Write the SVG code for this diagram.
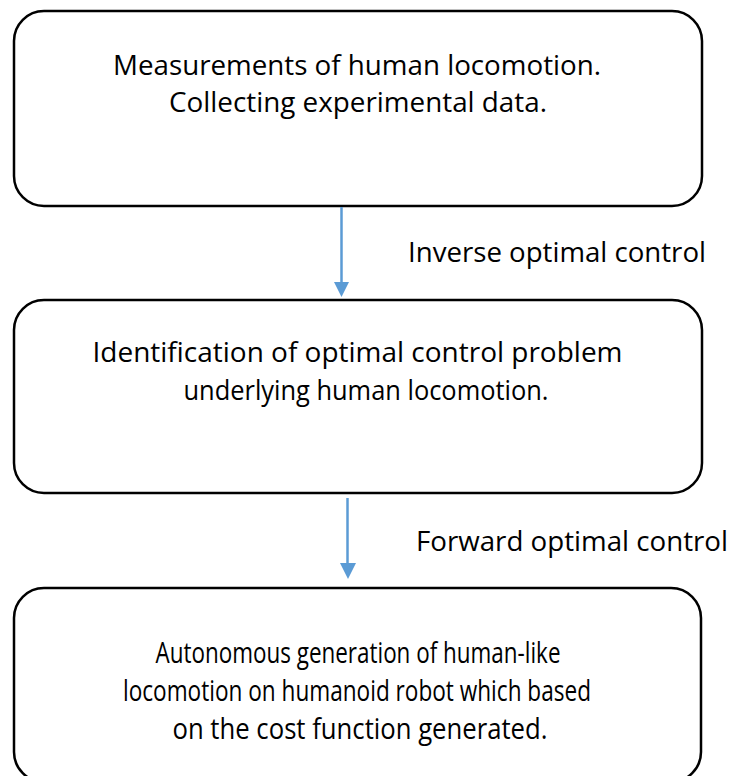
<svg xmlns="http://www.w3.org/2000/svg" width="734" height="776" viewBox="0 0 734 776">
<style>
.box{fill:#fff;stroke:#000;stroke-width:2.5}
.t{font-family:"Open Sans","Liberation Sans",sans-serif;font-size:28px;fill:#000;text-anchor:middle}
.b3{font-size:29px}
.l{font-family:"Open Sans","Liberation Sans",sans-serif;font-size:28px;fill:#000}
.c{stroke:#5B9BD5;stroke-width:2.5;fill:none}
.h{fill:#5B9BD5}
</style>
<rect width="734" height="776" fill="#fff"/>
<g id="node1">
<rect class="box" x="14" y="11" width="688" height="195" rx="30"/>
<text class="t" x="357" y="75" textLength="488" lengthAdjust="spacingAndGlyphs">Measurements of human locomotion.</text>
<text class="t" x="358" y="112" textLength="378" lengthAdjust="spacingAndGlyphs">Collecting experimental data.</text>
</g>
<g id="node2">
<rect class="box" x="14" y="300" width="688" height="193" rx="30"/>
<text class="t" x="357.5" y="362" textLength="530" lengthAdjust="spacingAndGlyphs">Identification of optimal control problem</text>
<text class="t" x="366" y="400" textLength="365" lengthAdjust="spacingAndGlyphs">underlying human locomotion.</text>
</g>
<g id="node3">
<rect class="box" x="14" y="588" width="687" height="194" rx="30"/>
<text class="t b3" x="358" y="663" textLength="405" lengthAdjust="spacingAndGlyphs">Autonomous generation of human-like</text>
<text class="t b3" x="357" y="701" textLength="468" lengthAdjust="spacingAndGlyphs">locomotion on humanoid robot which based</text>
<text class="t b3" x="360" y="739" textLength="375" lengthAdjust="spacingAndGlyphs">on the cost function generated.</text>
</g>
<g id="connectors">
<line class="c" x1="341.5" y1="207" x2="341.5" y2="284"/>
<polygon class="h" points="334,282 349,282 341.5,297"/>
<line class="c" x1="347.5" y1="498" x2="347.5" y2="565"/>
<polygon class="h" points="340,563 356,563 348,579"/>
<text class="l" x="408" y="262" textLength="298" lengthAdjust="spacingAndGlyphs">Inverse optimal control</text>
<text class="l" x="416" y="551" textLength="312" lengthAdjust="spacingAndGlyphs">Forward optimal control</text>
</g>
</svg>
